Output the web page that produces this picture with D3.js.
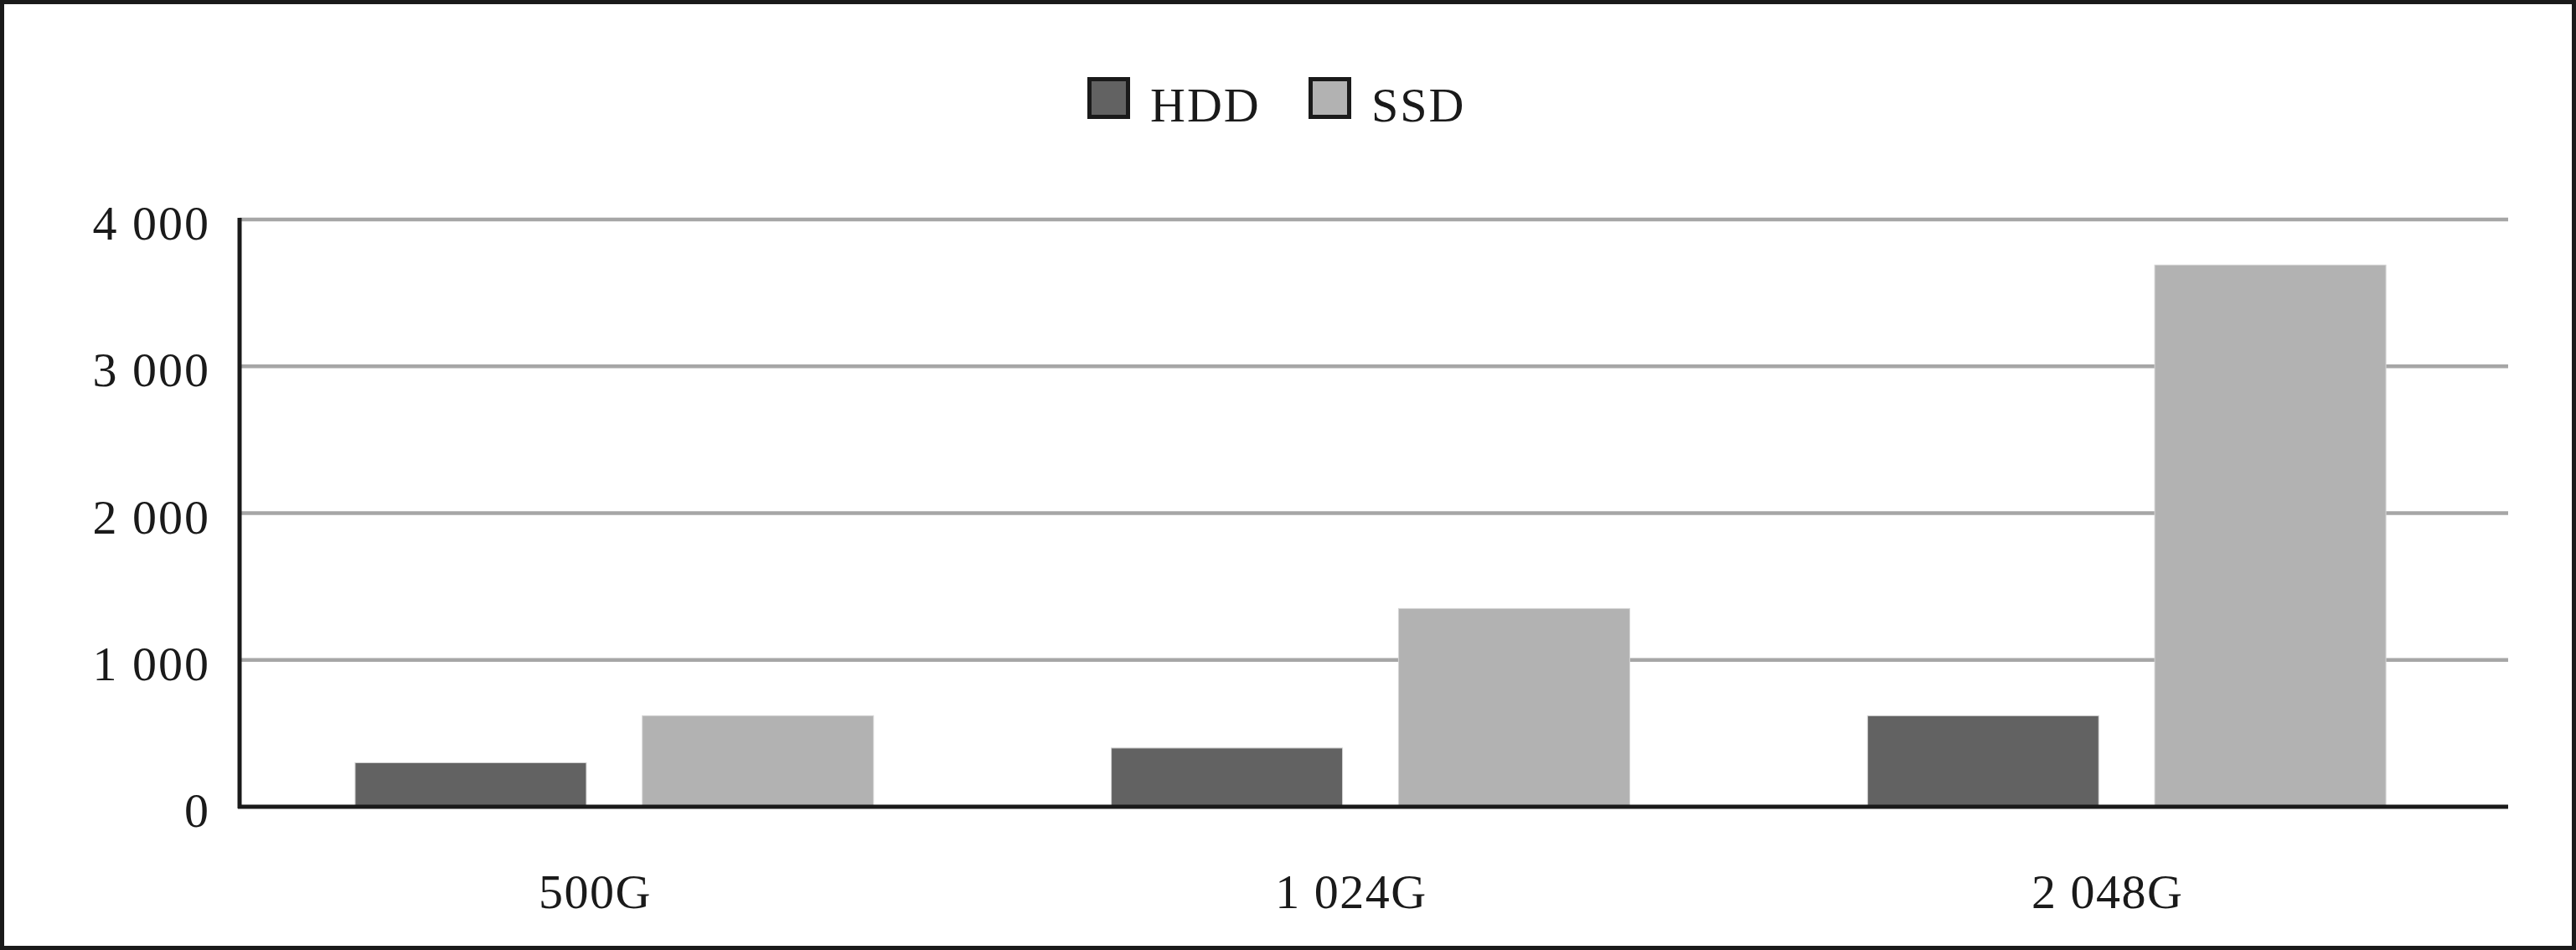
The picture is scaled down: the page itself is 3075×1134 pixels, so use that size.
<!DOCTYPE html>
<html><head><meta charset="utf-8">
<script src="https://cdn.jsdelivr.net/npm/d3@7"></script>
<style>html,body{margin:0;padding:0;background:#fff;}svg{display:block;}</style>
</head><body>
<script>
const categories = ["500G", "1 024G", "2 048G"];
const seriesNames = ["HDD", "SSD"];
const hddValues = [300, 400, 620];
const ssdValues = [620, 1350, 3690];
const yTicks = [0, 1000, 2000, 3000, 4000];
const yTickLabels = ["0", "1 000", "2 000", "3 000", "4 000"];
const colors = ["#626262", "#b2b2b2"];

(function () {
const W = 3075, H = 1134;
const svg = d3.select("body").append("svg").attr("width", W).attr("height", H);
svg.append("rect").attr("x", 2.5).attr("y", 2.5).attr("width", W - 5).attr("height", H - 5)
  .attr("fill", "#fff").attr("stroke", "#1a1a1a").attr("stroke-width", 5);

const pLeft = 286, pRight = 2994, pTop = 262, pBottom = 963;
const font = "'Liberation Serif', 'Times New Roman', serif";

const y = d3.scaleLinear().domain([0, 4000]).range([pBottom, pTop]);
const x0 = d3.scaleBand().domain(categories).range([pLeft, pRight]).padding(0);
const x1 = d3.scaleBand().domain(seriesNames).range([-4, x0.bandwidth() - 4])
  .paddingInner(0.195).paddingOuter(0.414);

// gridlines
svg.append("g").selectAll("line").data(yTicks.filter(d => d > 0)).join("line")
  .attr("x1", pLeft).attr("x2", pRight)
  .attr("y1", d => y(d)).attr("y2", d => y(d))
  .attr("stroke", "#a6a6a6").attr("stroke-width", 4.5);

// bars
const data = categories.map((c, i) => ({cat: c, vals: [hddValues[i], ssdValues[i]]}));
const g = svg.append("g");
g.selectAll("g").data(data).join("g")
  .attr("transform", d => `translate(${x0(d.cat)},0)`)
  .selectAll("rect").data(d => d.vals.map((v, j) => ({s: seriesNames[j], v, j}))).join("rect")
  .attr("x", d => x1(d.s)).attr("width", x1.bandwidth())
  .attr("y", d => y(d.v)).attr("height", d => y(0) - y(d.v))
  .attr("fill", d => colors[d.j]).attr("stroke", "#d4d4d4").attr("stroke-width", 1);

// axes lines
svg.append("line").attr("x1", pLeft).attr("x2", pLeft).attr("y1", pTop - 2).attr("y2", pBottom + 2)
  .attr("stroke", "#1a1a1a").attr("stroke-width", 5);
svg.append("line").attr("x1", pLeft - 2).attr("x2", pRight).attr("y1", pBottom).attr("y2", pBottom)
  .attr("stroke", "#1a1a1a").attr("stroke-width", 5);

// y labels
svg.append("g").selectAll("text").data(yTicks).join("text")
  .attr("x", 251).attr("y", d => y(d) + 24)
  .attr("text-anchor", "end").attr("font-family", font).attr("font-size", 58)
  .attr("letter-spacing", 2)
  .attr("fill", "#1a1a1a").text((d, i) => yTickLabels[i]);

// x labels
svg.append("g").selectAll("text").data(categories).join("text")
  .attr("x", d => x0(d) + x0.bandwidth() / 2 - 27).attr("y", 1084)
  .attr("text-anchor", "middle").attr("font-family", font).attr("font-size", 58)
  .attr("letter-spacing", 1.5)
  .attr("fill", "#1a1a1a").text(d => d);

// legend
const legendX = [1298, 1562];
const lg = svg.append("g");
seriesNames.forEach((s, i) => {
  lg.append("rect").attr("x", legendX[i] + 2.5).attr("y", 94.5).attr("width", 46).attr("height", 45)
    .attr("fill", colors[i]).attr("stroke", "#1a1a1a").attr("stroke-width", 5);
  lg.append("text").attr("x", legendX[i] + 75).attr("y", 145)
    .attr("font-family", font).attr("font-size", 58).attr("letter-spacing", 2)
    .attr("fill", "#1a1a1a").text(s);
});
})();
</script>
</body></html>
